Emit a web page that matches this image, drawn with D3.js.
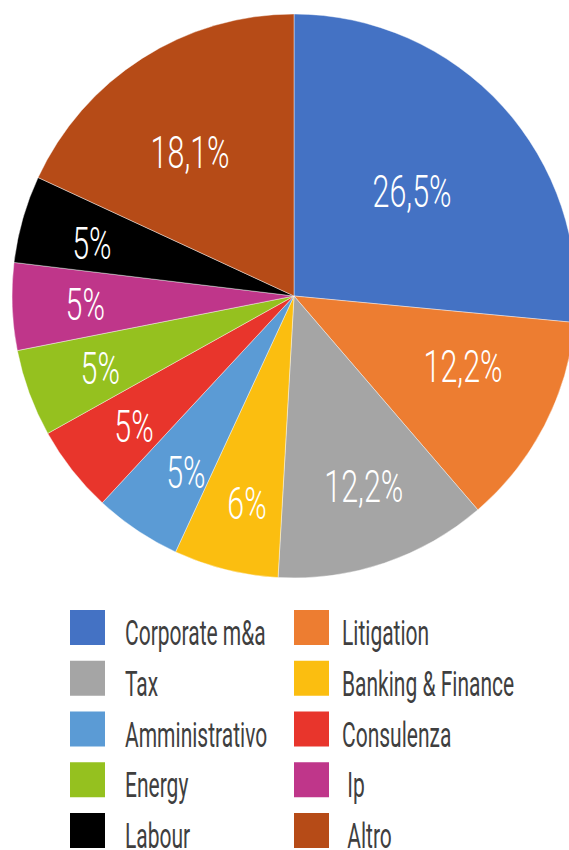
<!DOCTYPE html>
<html>
<head>
<meta charset="utf-8">
<script src="https://cdn.jsdelivr.net/npm/d3@7"></script>
<style>
  html, body { margin: 0; padding: 0; background: #fff; }
  svg { display: block; }
  text { font-family: Roboto, "Open Sans", sans-serif; white-space: pre; }
</style>
</head>
<body>
<svg id="chart" width="569" height="850"></svg>
<script>
// Practice areas and their share (%)
const categories = ["Corporate m&a", "Litigation", "Tax", "Banking & Finance", "Amministrativo",
                    "Consulenza", "Energy", "Ip", "Labour", "Altro"];
const legendNames = ["Corporate m&a", "Litigation", "Tax", "Banking & Finance", "Amministrativo",
                     "Consulenza", "Energy", " Ip", "Labour", " Altro"];
const values = [26.5, 12.2, 12.2, 6, 5, 5, 5, 5, 5, 18.1];
const valueLabels = ["26,5%", "12,2%", "12,2%", "6%", "5%", "5%", "5%", "5%", "5%", "18,1%"];
const colors = ["#4472C4", "#ED7D31", "#A5A5A5", "#FBBE10", "#5B9BD5",
                "#E8352C", "#95C11F", "#BF368A", "#000000", "#B64B17"];

// Label placement inside each slice: radius as share of the pie radius, angular nudge in degrees
const labelRadius = [0.558, 0.65, 0.72, 0.756, 0.733, 0.733, 0.734, 0.741, 0.74, 0.627];
const labelNudge  = [0.9, -4.6, -1.4, -1.3, -2.3, -1.1, -0.4, -0.3, -1.4, -3.4];

const svg = d3.select("#chart");
const cx = 294, cy = 296, R = 282;

const pie = d3.pie().sort(null).value(d => d)(values);
const arc = d3.arc().innerRadius(0).outerRadius(R);

const g = svg.append("g").attr("transform", `translate(${cx},${cy})`);

g.selectAll("path.slice")
  .data(pie)
  .join("path")
  .attr("class", "slice")
  .attr("d", arc)
  .attr("fill", (d, i) => colors[i])
  .attr("stroke", "#ffffff")
  .attr("stroke-width", 0.6)
  .attr("stroke-opacity", 0.7);

// Value labels
g.selectAll("text.val")
  .data(pie)
  .join("text")
  .attr("class", "val")
  .attr("transform", (d, i) => {
    const a = (d.startAngle + d.endAngle) / 2 + labelNudge[i] * Math.PI / 180;
    const r = labelRadius[i] * R;
    const x = r * Math.sin(a), y = -r * Math.cos(a);
    return `translate(${x},${y}) scale(0.7,1)`;
  })
  .attr("text-anchor", "middle")
  .attr("dy", "0.355em")
  .attr("fill", "#ffffff")
  .attr("font-size", 43.5)
  .attr("font-weight", 300)
  .text((d, i) => valueLabels[i]);

// Legend: two columns, row-major
const legend = svg.append("g");
const colX = [70, 294];
const rowY = d3.scaleLinear().domain([0, 4]).range([610, 813]);
const sw = 35;

const item = legend.selectAll("g.item")
  .data(legendNames)
  .join("g")
  .attr("class", "item")
  .attr("transform", (d, i) => `translate(${colX[i % 2]},${rowY(Math.floor(i / 2))})`);

item.append("rect")
  .attr("width", sw)
  .attr("height", sw)
  .attr("fill", (d, i) => colors[i]);

item.append("text")
  .attr("transform", (d, i) => `translate(${i % 2 === 0 ? 55 : 48},${sw}) scale(0.6,1)`)
  .attr("fill", "#3f3f3f")
  .attr("font-size", 35)
  .attr("font-weight", 400)
  .text(d => d);
</script>
</body>
</html>
